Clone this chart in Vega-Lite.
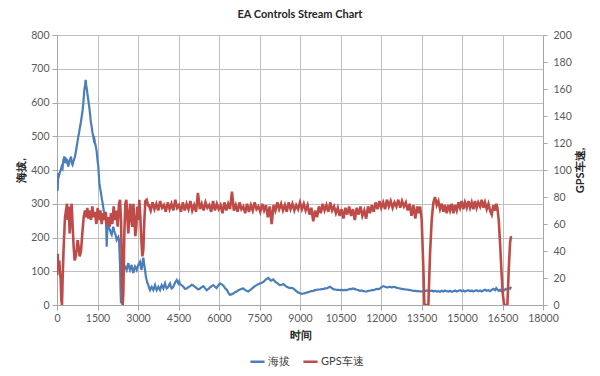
{
  "$schema": "https://vega.github.io/schema/vega-lite/v6.json",
  "width": 486,
  "height": 270,
  "autosize": "none",
  "padding": {"left": 57, "top": 35, "right": 57, "bottom": 71},
  "background": "white",
  "title": {"text": "EA Controls Stream Chart", "font": "Lato", "fontSize": 11, "fontWeight": "bold", "color": "#262626", "offset": 10, "anchor": "middle"},
  "config": {
    "view": {"stroke": null},
    "axis": {"labelFont": "Lato", "labelFontSize": 10.5, "labelColor": "#595959", "titleFont": "Lato", "titleColor": "#262626", "titleFontSize": 11, "titleFontWeight": "bold", "domainColor": "#A6A6A6", "tickColor": "#A6A6A6", "gridColor": "#BFBFBF", "tickSize": 5, "labelPadding": 3},
    "legend": {"labelFont": "Lato", "labelFontSize": 11, "labelColor": "#404040"}
  },
  "datasets": {
    "alt": [
      {"t":0,"h":340},{"t":25,"h":341},{"t":49,"h":391},{"t":80,"h":385},{"t":111,"h":394},{"t":140,"h":400},{"t":173,"h":410},{"t":205,"h":405},{"t":235,"h":430},{"t":272,"h":440},{"t":300,"h":425},{"t":321,"h":420},{"t":345,"h":432},{"t":370,"h":430},{"t":395,"h":418},{"t":420,"h":410},{"t":450,"h":425},{"t":482,"h":430},{"t":519,"h":440},{"t":543,"h":420},{"t":575,"h":415},{"t":605,"h":425},{"t":635,"h":432},{"t":667,"h":440},{"t":700,"h":455},{"t":728,"h":469},{"t":760,"h":485},{"t":790,"h":499},{"t":820,"h":512},{"t":852,"h":528},{"t":880,"h":540},{"t":914,"h":558},{"t":945,"h":575},{"t":975,"h":598},{"t":995,"h":620},{"t":1012,"h":637},{"t":1040,"h":652},{"t":1062,"h":667},{"t":1085,"h":650},{"t":1111,"h":637},{"t":1135,"h":620},{"t":1160,"h":607},{"t":1190,"h":590},{"t":1222,"h":568},{"t":1250,"h":545},{"t":1284,"h":528},{"t":1315,"h":510},{"t":1346,"h":499},{"t":1365,"h":489},{"t":1383,"h":492},{"t":1408,"h":480},{"t":1440,"h":469},{"t":1469,"h":455},{"t":1500,"h":430},{"t":1531,"h":410},{"t":1550,"h":385},{"t":1568,"h":361},{"t":1600,"h":345},{"t":1630,"h":331},{"t":1660,"h":315},{"t":1692,"h":301},{"t":1720,"h":285},{"t":1753,"h":272},{"t":1780,"h":262},{"t":1803,"h":255},{"t":1822,"h":230},{"t":1840,"h":173},{"t":1858,"h":210},{"t":1877,"h":242},{"t":1920,"h":230},{"t":1963,"h":222},{"t":2000,"h":212},{"t":2025,"h":208},{"t":2060,"h":222},{"t":2087,"h":232},{"t":2120,"h":220},{"t":2148,"h":212},{"t":2180,"h":205},{"t":2210,"h":193},{"t":2240,"h":198},{"t":2272,"h":202},{"t":2300,"h":190},{"t":2334,"h":120},{"t":2355,"h":40},{"t":2371,"h":5},{"t":2395,"h":10},{"t":2415,"h":60},{"t":2432,"h":84},{"t":2457,"h":95},{"t":2490,"h":108},{"t":2519,"h":114},{"t":2550,"h":110},{"t":2580,"h":104},{"t":2610,"h":115},{"t":2642,"h":124},{"t":2670,"h":112},{"t":2704,"h":104},{"t":2735,"h":112},{"t":2766,"h":119},{"t":2795,"h":105},{"t":2827,"h":95},{"t":2860,"h":106},{"t":2889,"h":114},{"t":2920,"h":110},{"t":2951,"h":104},{"t":2980,"h":112},{"t":3013,"h":119},{"t":3045,"h":124},{"t":3074,"h":128},{"t":3105,"h":112},{"t":3136,"h":104},{"t":3165,"h":125},{"t":3198,"h":140},{"t":3230,"h":120},{"t":3260,"h":104},{"t":3290,"h":85},{"t":3321,"h":74},{"t":3350,"h":65},{"t":3383,"h":59},{"t":3415,"h":50},{"t":3445,"h":44},{"t":3475,"h":50},{"t":3507,"h":54},{"t":3537,"h":48},{"t":3568,"h":44},{"t":3600,"h":52},{"t":3630,"h":59},{"t":3660,"h":50},{"t":3692,"h":44},{"t":3722,"h":50},{"t":3753,"h":54},{"t":3785,"h":48},{"t":3815,"h":44},{"t":3845,"h":52},{"t":3877,"h":59},{"t":3910,"h":54},{"t":3939,"h":49},{"t":3970,"h":57},{"t":4000,"h":64},{"t":4030,"h":55},{"t":4062,"h":49},{"t":4095,"h":51},{"t":4124,"h":54},{"t":4155,"h":60},{"t":4186,"h":64},{"t":4215,"h":56},{"t":4247,"h":49},{"t":4280,"h":51},{"t":4309,"h":54},{"t":4370,"h":66},{"t":4433,"h":74},{"t":4465,"h":68},{"t":4494,"h":64},{"t":4525,"h":70},{"t":4556,"h":62},{"t":4620,"h":58},{"t":4680,"h":54},{"t":4740,"h":48},{"t":4804,"h":49},{"t":4870,"h":53},{"t":4930,"h":56},{"t":4990,"h":60},{"t":5048,"h":58},{"t":5110,"h":54},{"t":5170,"h":50},{"t":5230,"h":46},{"t":5297,"h":49},{"t":5360,"h":53},{"t":5420,"h":56},{"t":5480,"h":50},{"t":5545,"h":44},{"t":5610,"h":48},{"t":5670,"h":52},{"t":5730,"h":56},{"t":5789,"h":59},{"t":5850,"h":54},{"t":5910,"h":50},{"t":5970,"h":58},{"t":6037,"h":64},{"t":6100,"h":61},{"t":6160,"h":58},{"t":6220,"h":50},{"t":6290,"h":45},{"t":6350,"h":36},{"t":6408,"h":30},{"t":6470,"h":32},{"t":6530,"h":34},{"t":6590,"h":38},{"t":6656,"h":40},{"t":6720,"h":44},{"t":6780,"h":46},{"t":6840,"h":48},{"t":6901,"h":49},{"t":6960,"h":45},{"t":7020,"h":42},{"t":7080,"h":40},{"t":7149,"h":44},{"t":7210,"h":48},{"t":7270,"h":52},{"t":7330,"h":56},{"t":7397,"h":59},{"t":7460,"h":62},{"t":7520,"h":64},{"t":7580,"h":66},{"t":7641,"h":68},{"t":7690,"h":72},{"t":7740,"h":76},{"t":7780,"h":78},{"t":7827,"h":80},{"t":7870,"h":76},{"t":7920,"h":72},{"t":7970,"h":74},{"t":8012,"h":76},{"t":8070,"h":70},{"t":8130,"h":66},{"t":8200,"h":62},{"t":8260,"h":59},{"t":8320,"h":60},{"t":8380,"h":62},{"t":8440,"h":58},{"t":8508,"h":54},{"t":8570,"h":52},{"t":8630,"h":50},{"t":8690,"h":51},{"t":8753,"h":49},{"t":8820,"h":44},{"t":8880,"h":40},{"t":8940,"h":37},{"t":9001,"h":35},{"t":9060,"h":33},{"t":9125,"h":34},{"t":9190,"h":35},{"t":9249,"h":37},{"t":9310,"h":38},{"t":9370,"h":40},{"t":9430,"h":41},{"t":9494,"h":42},{"t":9560,"h":44},{"t":9620,"h":45},{"t":9680,"h":46},{"t":9742,"h":46},{"t":9800,"h":47},{"t":9870,"h":48},{"t":9930,"h":49},{"t":9990,"h":49},{"t":10050,"h":52},{"t":10112,"h":54},{"t":10170,"h":51},{"t":10235,"h":47},{"t":10300,"h":46},{"t":10360,"h":45},{"t":10420,"h":45},{"t":10483,"h":44},{"t":10540,"h":45},{"t":10610,"h":44},{"t":10670,"h":45},{"t":10731,"h":44},{"t":10790,"h":46},{"t":10850,"h":48},{"t":10910,"h":47},{"t":10975,"h":49},{"t":11040,"h":47},{"t":11100,"h":45},{"t":11160,"h":44},{"t":11223,"h":42},{"t":11280,"h":43},{"t":11350,"h":41},{"t":11410,"h":40},{"t":11471,"h":40},{"t":11530,"h":42},{"t":11600,"h":43},{"t":11660,"h":44},{"t":11716,"h":44},{"t":11780,"h":46},{"t":11840,"h":48},{"t":11900,"h":47},{"t":11964,"h":49},{"t":12020,"h":53},{"t":12087,"h":56},{"t":12150,"h":54},{"t":12212,"h":52},{"t":12280,"h":53},{"t":12340,"h":54},{"t":12400,"h":52},{"t":12457,"h":54},{"t":12520,"h":53},{"t":12580,"h":51},{"t":12640,"h":50},{"t":12705,"h":49},{"t":12770,"h":48},{"t":12830,"h":47},{"t":12890,"h":46},{"t":12953,"h":46},{"t":13020,"h":45},{"t":13080,"h":44},{"t":13140,"h":43},{"t":13198,"h":42},{"t":13260,"h":42},{"t":13320,"h":41},{"t":13380,"h":41},{"t":13446,"h":40},{"t":13508,"h":40},{"t":13570,"h":42},{"t":13631,"h":41},{"t":13700,"h":43},{"t":13755,"h":42},{"t":13820,"h":41},{"t":13880,"h":43},{"t":13940,"h":40},{"t":14000,"h":42},{"t":14063,"h":40},{"t":14125,"h":41},{"t":14190,"h":39},{"t":14250,"h":42},{"t":14310,"h":40},{"t":14370,"h":43},{"t":14434,"h":41},{"t":14500,"h":40},{"t":14557,"h":42},{"t":14620,"h":39},{"t":14681,"h":41},{"t":14740,"h":43},{"t":14804,"h":40},{"t":14870,"h":42},{"t":14928,"h":44},{"t":14990,"h":41},{"t":15050,"h":43},{"t":15110,"h":40},{"t":15175,"h":42},{"t":15240,"h":44},{"t":15300,"h":41},{"t":15360,"h":43},{"t":15422,"h":40},{"t":15480,"h":42},{"t":15540,"h":44},{"t":15600,"h":41},{"t":15669,"h":43},{"t":15730,"h":40},{"t":15790,"h":43},{"t":15850,"h":45},{"t":15916,"h":42},{"t":15980,"h":44},{"t":16040,"h":41},{"t":16101,"h":45},{"t":16160,"h":48},{"t":16225,"h":44},{"t":16270,"h":50},{"t":16311,"h":46},{"t":16360,"h":42},{"t":16410,"h":45},{"t":16459,"h":41},{"t":16508,"h":44},{"t":16558,"h":43},{"t":16620,"h":48},{"t":16681,"h":45},{"t":16730,"h":50},{"t":16780,"h":48},{"t":16817,"h":54}
    ],
    "spd": [
      {"t":0,"s":22},{"t":25,"s":38},{"t":49,"s":28},{"t":86,"s":33},{"t":111,"s":23},{"t":136,"s":20},{"t":160,"s":4},{"t":185,"s":0},{"t":210,"s":21},{"t":247,"s":43},{"t":296,"s":65},{"t":333,"s":70},{"t":370,"s":75},{"t":395,"s":63},{"t":432,"s":73},{"t":469,"s":53},{"t":506,"s":68},{"t":543,"s":75},{"t":580,"s":58},{"t":617,"s":43},{"t":654,"s":33},{"t":691,"s":36},{"t":728,"s":41},{"t":765,"s":48},{"t":802,"s":43},{"t":839,"s":36},{"t":889,"s":40},{"t":938,"s":53},{"t":988,"s":65},{"t":1037,"s":70},{"t":1086,"s":65},{"t":1123,"s":72},{"t":1160,"s":64},{"t":1210,"s":70},{"t":1259,"s":63},{"t":1309,"s":73},{"t":1358,"s":65},{"t":1408,"s":69},{"t":1457,"s":60},{"t":1506,"s":72},{"t":1556,"s":63},{"t":1605,"s":70},{"t":1655,"s":60},{"t":1704,"s":68},{"t":1753,"s":63},{"t":1803,"s":69},{"t":1852,"s":59},{"t":1902,"s":65},{"t":1951,"s":58},{"t":2001,"s":68},{"t":2050,"s":60},{"t":2099,"s":73},{"t":2148,"s":63},{"t":2198,"s":70},{"t":2247,"s":58},{"t":2297,"s":75},{"t":2334,"s":78},{"t":2371,"s":63},{"t":2408,"s":21},{"t":2432,"s":0},{"t":2457,"s":9},{"t":2494,"s":53},{"t":2531,"s":75},{"t":2568,"s":78},{"t":2605,"s":65},{"t":2642,"s":53},{"t":2679,"s":68},{"t":2716,"s":75},{"t":2753,"s":63},{"t":2790,"s":58},{"t":2827,"s":75},{"t":2864,"s":65},{"t":2901,"s":51},{"t":2938,"s":58},{"t":2975,"s":73},{"t":3012,"s":63},{"t":3050,"s":78},{"t":3087,"s":65},{"t":3124,"s":48},{"t":3161,"s":36},{"t":3198,"s":41},{"t":3235,"s":63},{"t":3272,"s":77},{"t":3321,"s":78},{"t":3371,"s":74},
      {"t":3400,"s":74},{"t":3470,"s":70},{"t":3540,"s":76},{"t":3610,"s":71},{"t":3680,"s":75},{"t":3750,"s":70},{"t":3820,"s":77},{"t":3890,"s":72},{"t":3960,"s":74},{"t":4030,"s":69},{"t":4100,"s":76},{"t":4170,"s":71},{"t":4240,"s":75},{"t":4310,"s":70},{"t":4380,"s":78},{"t":4450,"s":72},{"t":4520,"s":74},{"t":4590,"s":69},{"t":4660,"s":76},{"t":4730,"s":70},{"t":4800,"s":75},{"t":4870,"s":71},{"t":4940,"s":77},{"t":5010,"s":70},{"t":5080,"s":74},{"t":5150,"s":69},{"t":5220,"s":83},{"t":5290,"s":71},{"t":5360,"s":75},{"t":5430,"s":70},{"t":5500,"s":76},{"t":5570,"s":72},{"t":5640,"s":74},{"t":5710,"s":69},{"t":5780,"s":77},{"t":5850,"s":70},{"t":5920,"s":75},{"t":5990,"s":71},{"t":6060,"s":74},{"t":6130,"s":68},{"t":6200,"s":76},{"t":6270,"s":70},{"t":6340,"s":75},{"t":6410,"s":71},{"t":6480,"s":84},{"t":6550,"s":70},{"t":6620,"s":74},{"t":6690,"s":69},{"t":6760,"s":76},{"t":6830,"s":71},{"t":6900,"s":73},{"t":6970,"s":68},{"t":7040,"s":75},{"t":7110,"s":69},{"t":7180,"s":74},{"t":7250,"s":70},{"t":7320,"s":76},{"t":7390,"s":71},{"t":7460,"s":73},{"t":7530,"s":69},{"t":7600,"s":75},{"t":7670,"s":70},{"t":7740,"s":74},{"t":7810,"s":65},{"t":7880,"s":73},{"t":7950,"s":60},{"t":8020,"s":74},{"t":8090,"s":70},{"t":8160,"s":76},{"t":8230,"s":71},{"t":8300,"s":75},{"t":8370,"s":70},{"t":8440,"s":74},{"t":8510,"s":69},{"t":8580,"s":76},{"t":8650,"s":71},{"t":8720,"s":75},{"t":8790,"s":70},{"t":8860,"s":74},{"t":8930,"s":71},{"t":9000,"s":76},{"t":9070,"s":71},{"t":9140,"s":75},{"t":9210,"s":70},{"t":9280,"s":74},{"t":9350,"s":67},{"t":9420,"s":72},{"t":9490,"s":62},{"t":9560,"s":70},{"t":9630,"s":65},{"t":9700,"s":73},{"t":9770,"s":68},{"t":9840,"s":75},{"t":9910,"s":70},{"t":9980,"s":74},{"t":10050,"s":69},{"t":10120,"s":76},{"t":10190,"s":70},{"t":10260,"s":73},{"t":10330,"s":68},{"t":10400,"s":72},{"t":10470,"s":66},{"t":10540,"s":71},{"t":10610,"s":64},{"t":10680,"s":72},{"t":10750,"s":67},{"t":10820,"s":73},{"t":10890,"s":66},{"t":10960,"s":71},{"t":11030,"s":63},{"t":11100,"s":72},{"t":11170,"s":67},{"t":11240,"s":73},{"t":11310,"s":66},{"t":11380,"s":70},{"t":11450,"s":64},{"t":11520,"s":73},{"t":11590,"s":68},{"t":11660,"s":74},{"t":11730,"s":69},{"t":11800,"s":76},{"t":11870,"s":71},{"t":11940,"s":77},{"t":12010,"s":72},{"t":12080,"s":76},{"t":12150,"s":71},{"t":12220,"s":78},{"t":12290,"s":73},{"t":12360,"s":77},{"t":12430,"s":72},{"t":12500,"s":76},{"t":12570,"s":73},{"t":12640,"s":78},{"t":12710,"s":72},{"t":12780,"s":77},{"t":12850,"s":73},{"t":12920,"s":76},{"t":12990,"s":70},{"t":13060,"s":75},{"t":13130,"s":66},{"t":13200,"s":74},{"t":13270,"s":64},{"t":13340,"s":73},{"t":13400,"s":68},{"t":13446,"s":73},{"t":13508,"s":63},{"t":13570,"s":26},{"t":13607,"s":0},{"t":13680,"s":0},{"t":13755,"s":0},{"t":13816,"s":38},{"t":13878,"s":63},{"t":13940,"s":76},{"t":14000,"s":80},{"t":14063,"s":74},{"t":14125,"s":77},{"t":14187,"s":71},{"t":14250,"s":75},{"t":14310,"s":69},{"t":14370,"s":74},{"t":14434,"s":68},{"t":14500,"s":74},{"t":14557,"s":70},{"t":14620,"s":75},{"t":14681,"s":68},{"t":14740,"s":74},{"t":14804,"s":70},{"t":14870,"s":76},{"t":14928,"s":72},{"t":14990,"s":77},{"t":15050,"s":71},{"t":15110,"s":76},{"t":15175,"s":72},{"t":15240,"s":77},{"t":15300,"s":72},{"t":15360,"s":76},{"t":15422,"s":71},{"t":15480,"s":77},{"t":15540,"s":72},{"t":15600,"s":76},{"t":15669,"s":73},{"t":15730,"s":78},{"t":15790,"s":72},{"t":15850,"s":76},{"t":15916,"s":71},{"t":15980,"s":75},{"t":16040,"s":70},{"t":16101,"s":67},{"t":16160,"s":74},{"t":16225,"s":70},{"t":16270,"s":75},{"t":16311,"s":72},{"t":16360,"s":63},{"t":16410,"s":46},{"t":16459,"s":26},{"t":16508,"s":9},{"t":16558,"s":0},{"t":16620,"s":0},{"t":16681,"s":0},{"t":16730,"s":26},{"t":16780,"s":46},{"t":16817,"s":51}
    ]
  },
  "encoding": {
    "x": {"field": "t", "type": "quantitative", "scale": {"domain": [0, 18000], "nice": false, "zero": false},
          "axis": {"values": [0,1500,3000,4500,6000,7500,9000,10500,12000,13500,15000,16500,18000], "format": "d", "title": "时间", "grid": true, "titlePadding": 6, "labelFlush": false}}
  },
  "layer": [
    {
      "data": {"name": "alt"},
      "mark": {"type": "line", "strokeWidth": 2.2, "clip": true},
      "encoding": {
        "y": {"field": "h", "type": "quantitative", "scale": {"domain": [0, 800], "nice": false},
              "axis": {"values": [0,100,200,300,400,500,600,700,800], "title": "海拔,", "grid": true, "titlePadding": 4}},
        "color": {"datum": "海拔", "type": "nominal",
                  "scale": {"domain": ["海拔", "GPS车速"], "range": ["#4A7EBB", "#BE4B48"]},
                  "legend": {"orient": "none", "legendX": 192, "legendY": 318, "direction": "horizontal", "title": null, "symbolType": "stroke", "symbolStrokeWidth": 2.5, "symbolSize": 200, "columnPadding": 8, "labelOffset": 2}}
      }
    },
    {
      "data": {"name": "spd"},
      "mark": {"type": "line", "strokeWidth": 2.6, "clip": true},
      "encoding": {
        "y": {"field": "s", "type": "quantitative", "scale": {"domain": [0, 200], "nice": false},
              "axis": {"orient": "right", "values": [0,20,40,60,80,100,120,140,160,180,200], "title": "GPS车速,", "titleAngle": 270, "grid": false, "tickSize": 4, "labelPadding": 6, "titlePadding": 14}},
        "color": {"datum": "GPS车速", "type": "nominal"}
      }
    }
  ],
  "resolve": {"scale": {"y": "independent"}}
}
